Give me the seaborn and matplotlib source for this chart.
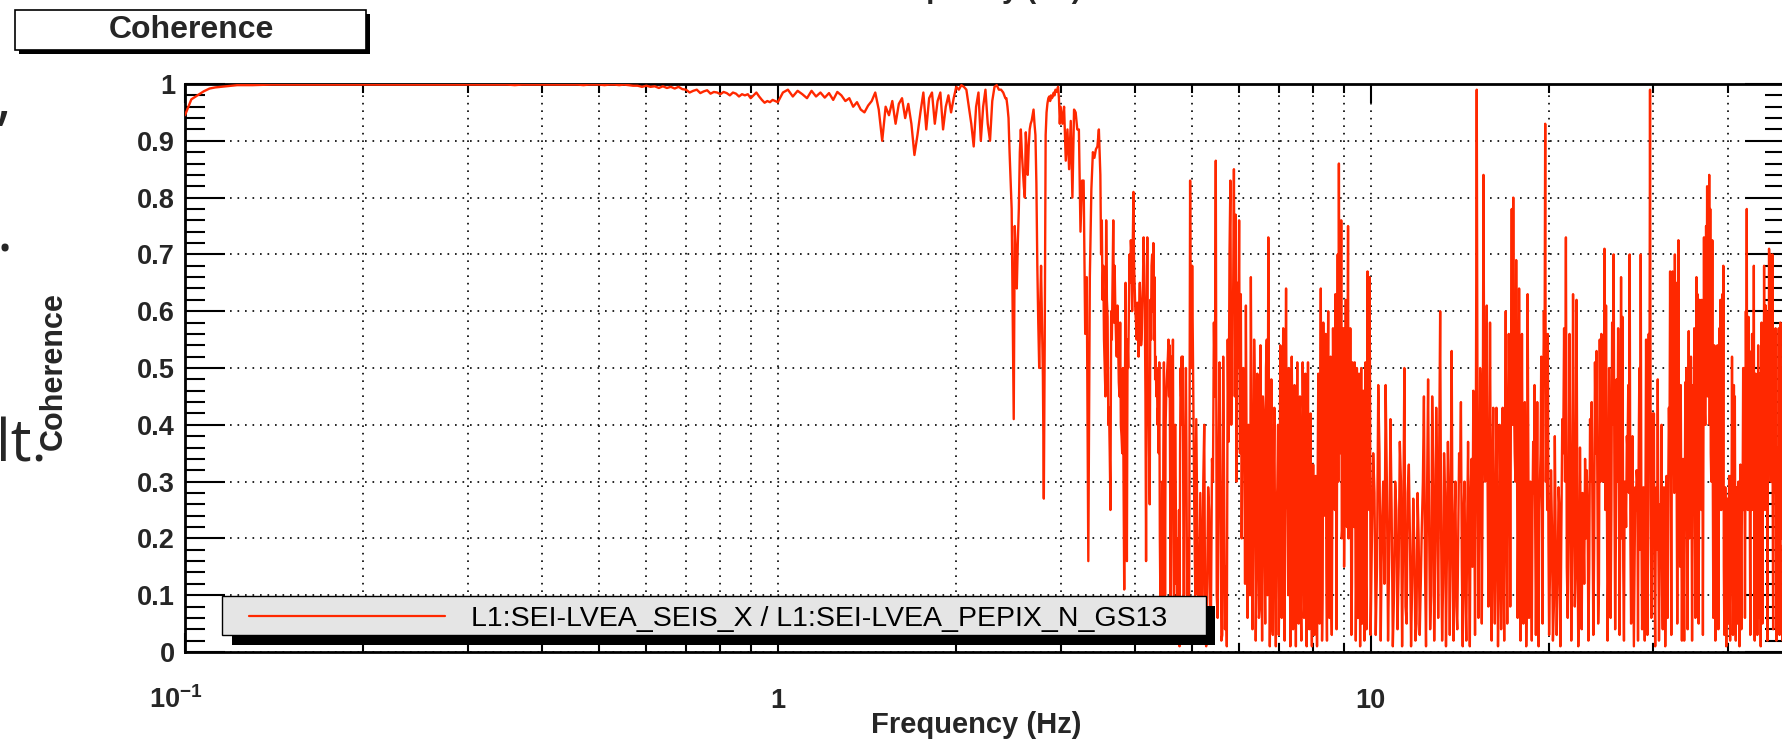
import numpy as np
import pandas as pd
import matplotlib
matplotlib.use("Agg")
import matplotlib.pyplot as plt
import matplotlib.transforms as mtransforms
from matplotlib.patches import Rectangle
from matplotlib.lines import Line2D
from matplotlib.ticker import FixedLocator, NullFormatter
import seaborn as sns

# ---------------- data ----------------
# each band: (start frequency Hz, bin step Hz) and coherence values
f_b1 = (0.100, 0.0025)
coh_b1 = [0.945, 0.973, 0.980, 0.987, 0.992, 0.994, 0.995, 0.996, 0.997, 0.998, 0.998]

f_b2 = (0.13, 0.01)
coh_b2 = [
    0.998, 0.999, 0.999, 0.999, 0.999, 0.999, 0.999, 0.999, 0.999, 0.999,
    0.999, 0.999, 0.999, 0.999, 0.999, 0.999, 0.999, 0.999, 0.999, 0.999,
    0.999, 0.999, 0.999, 0.998, 0.999, 0.999, 0.999, 0.999, 0.999, 0.999,
    0.999, 0.999, 0.999, 0.999, 0.998, 0.999, 0.999, 0.999, 0.998, 0.999,
    0.999, 0.998, 0.999,
    0.998, 0.997, 0.997, 0.995, 0.997, 0.995, 0.996, 0.993, 0.996, 0.993,
    0.995, 0.992, 0.995, 0.991, 0.990, 0.985, 0.988, 0.990, 0.984, 0.987,
    0.989, 0.983, 0.986, 0.985, 0.982, 0.986, 0.984, 0.980, 0.985, 0.983,
    0.978, 0.982, 0.980, 0.982, 0.975, 0.980, 0.985, 0.978, 0.972, 0.967,
    0.970, 0.968, 0.972, 0.970,
]

f_b3 = (1.00, 0.02)
coh_b3 = [
    0.968, 0.985, 0.990, 0.978, 0.988,
    0.982, 0.975, 0.988, 0.978, 0.985, 0.976, 0.984, 0.972, 0.986, 0.980,
    0.970, 0.975, 0.960, 0.968, 0.955, 0.950, 0.962, 0.970, 0.985, 0.955,
    0.900, 0.960, 0.945, 0.970, 0.930, 0.965, 0.975, 0.940, 0.965, 0.930,
    0.875, 0.910, 0.950, 0.985, 0.920, 0.975, 0.985, 0.930, 0.970, 0.985,
    0.920, 0.960, 0.980, 0.950, 0.975, 0.995, 0.990, 0.998, 0.995, 0.990,
    0.960, 0.930, 0.890, 0.960, 0.985, 0.900, 0.960, 0.990, 0.930, 0.900,
    0.970, 0.995, 0.998, 0.990, 0.990, 0.985, 0.975,
]

f_b4 = (2.43, 0.01)
coh_b4 = [
    0.975, 0.960, 0.940, 0.880, 0.830, 0.780, 0.600, 0.410, 0.750, 0.700,
    0.640, 0.720, 0.780, 0.880, 0.920, 0.880, 0.850, 0.820, 0.800, 0.915,
    0.880, 0.840, 0.890, 0.920, 0.930, 0.935, 0.945, 0.955, 0.930, 0.910,
    0.825, 0.680, 0.580, 0.500, 0.600, 0.680, 0.580, 0.485, 0.270, 0.550,
    0.910, 0.950, 0.966, 0.975, 0.978, 0.970, 0.980, 0.975, 0.978, 0.985,
    0.980, 0.990, 0.986, 0.990, 0.995, 0.975, 0.930, 0.960,
]

f_b5 = (3.02, 0.02)
coh_b5 = [
    0.93, 0.96, 0.865, 0.92, 0.85, 0.935, 0.80, 0.955, 0.95, 0.92,
    0.92, 0.74, 0.83, 0.83, 0.56, 0.66, 0.16, 0.66, 0.815, 0.88,
    0.87, 0.885, 0.89, 0.92, 0.84, 0.76, 0.68, 0.50, 0.76, 0.59,
    0.43, 0.25, 0.55, 0.76, 0.68, 0.55, 0.61, 0.475, 0.58, 0.38,
    0.50, 0.11, 0.65, 0.16, 0.50, 0.70, 0.725, 0.60, 0.81, 0.64,
    0.58, 0.615, 0.52, 0.65, 0.54, 0.62, 0.73, 0.60, 0.16, 0.73,
    0.47, 0.26, 0.55, 0.70, 0.72, 0.66, 0.52, 0.50, 0.43, 0.51,
    0.08, 0.05, 0.03, 0.51, 0.10, 0.45, 0.50, 0.55, 0.54, 0.03,
    0.52, 0.55, 0.02, 0.40, 0.12, 0.05, 0.03, 0.01, 0.50, 0.52,
    0.52, 0.02, 0.38, 0.50, 0.10, 0.03, 0.05, 0.83, 0.50, 0.68,
]
# bins lying between those of band 5 (3.5 - 5 Hz)
f_b5m = (3.51, 0.02)
coh_b5m = [
    0.70, 0.62, 0.55, 0.45, 0.62, 0.40, 0.35, 0.60, 0.66, 0.58,
    0.60, 0.52, 0.55, 0.45, 0.40, 0.35, 0.30, 0.45, 0.40, 0.55,
    0.60, 0.65, 0.70, 0.72, 0.68, 0.60, 0.55, 0.58, 0.60, 0.56,
    0.55, 0.65, 0.68, 0.45, 0.50, 0.40, 0.35, 0.62, 0.68, 0.60,
    0.55, 0.48, 0.45, 0.40, 0.35, 0.20, 0.15, 0.30, 0.35, 0.40,
    0.40, 0.48, 0.52, 0.45, 0.30, 0.35, 0.40, 0.20, 0.25, 0.30,
    0.20, 0.10, 0.25, 0.35, 0.45, 0.40, 0.25, 0.30, 0.40, 0.35,
    0.20, 0.10, 0.45, 0.60, 0.55,
]

f_b6 = (5.04, 0.04)
coh_b6 = [
    0.26, 0.41, 0.05, 0.28, 0.03, 0.40, 0.01, 0.29, 0.05, 0.34,
    0.58, 0.865, 0.06, 0.51, 0.02, 0.52, 0.04, 0.01, 0.37, 0.83,
    0.61, 0.85, 0.77, 0.65, 0.76, 0.63, 0.43, 0.41, 0.61, 0.06,
    0.30, 0.66, 0.04, 0.55, 0.02, 0.49, 0.06, 0.54, 0.02, 0.42,
    0.05, 0.55, 0.73, 0.01, 0.48, 0.03, 0.43, 0.01, 0.29, 0.03,
    0.54, 0.06, 0.57, 0.02, 0.64, 0.25, 0.50, 0.01, 0.52, 0.04,
    0.47, 0.01, 0.51, 0.05, 0.45, 0.02, 0.51, 0.06, 0.49, 0.01,
    0.51, 0.04, 0.42, 0.01, 0.33, 0.03, 0.31, 0.01, 0.49, 0.05,
    0.64, 0.02, 0.58, 0.24, 0.56, 0.02, 0.60, 0.06, 0.52, 0.03,
    0.57, 0.30, 0.63, 0.04, 0.70, 0.86, 0.40, 0.76, 0.22, 0.57,
    0.30, 0.62, 0.22, 0.75, 0.35, 0.57, 0.03, 0.51, 0.25, 0.51,
    0.02, 0.50, 0.06, 0.49, 0.01, 0.50, 0.05, 0.46, 0.02, 0.51,
    0.04, 0.67, 0.30, 0.66, 0.03,
]
# bins lying between those of band 6
f_b6m = (5.06, 0.04)
coh_b6m = [
    0.10, 0.22, 0.05, 0.15, 0.30, 0.02, 0.12, 0.25, 0.08,
    0.30, 0.45, 0.10, 0.35, 0.28, 0.03, 0.30, 0.15, 0.55, 0.70, 0.40, 0.60, 0.45, 0.30, 0.50,
    0.35, 0.20, 0.50, 0.12, 0.30, 0.40, 0.10, 0.35, 0.25, 0.45,
    0.15, 0.38, 0.08, 0.30, 0.45, 0.20, 0.50, 0.10, 0.35, 0.22,
    0.05, 0.30, 0.18, 0.25, 0.40,
    0.15, 0.35, 0.30, 0.12, 0.40, 0.28, 0.10, 0.33, 0.20, 0.38,
    0.06, 0.30, 0.25, 0.15, 0.35, 0.10, 0.28, 0.40, 0.12, 0.30,
    0.22, 0.08, 0.35, 0.15, 0.20,
    0.18, 0.05, 0.22, 0.30, 0.12, 0.40, 0.25, 0.10, 0.35, 0.28,
    0.15, 0.42, 0.20, 0.35, 0.10, 0.30, 0.45, 0.25, 0.55, 0.40,
    0.30, 0.50, 0.35, 0.20, 0.45,
    0.15, 0.40, 0.30, 0.50, 0.20, 0.35, 0.28, 0.12, 0.40, 0.22,
    0.30, 0.15, 0.35, 0.08, 0.30, 0.25, 0.10, 0.38, 0.20, 0.30,
    0.12, 0.35, 0.45, 0.25, 0.40,
]

f_b7 = (10.1, 0.1)
coh_b7 = [
    0.35, 0.03, 0.47, 0.02, 0.30, 0.47, 0.02, 0.41, 0.01, 0.30,
    0.04, 0.37, 0.01, 0.50, 0.05, 0.33, 0.01, 0.27, 0.02, 0.28,
    0.03, 0.22, 0.45, 0.01, 0.48, 0.04, 0.45, 0.02, 0.43, 0.06,
    0.60, 0.02, 0.35, 0.01, 0.37, 0.03, 0.53, 0.02, 0.30, 0.04,
    0.35, 0.44, 0.01, 0.30, 0.02, 0.37, 0.01, 0.34, 0.46, 0.03,
    0.99, 0.06, 0.50, 0.05, 0.84, 0.30, 0.61, 0.08, 0.58, 0.02,
    0.43, 0.05, 0.43, 0.01, 0.40, 0.04, 0.43, 0.02, 0.60, 0.05,
    0.56, 0.08, 0.78, 0.80, 0.35, 0.69, 0.06, 0.64, 0.02, 0.56,
    0.05, 0.44, 0.01, 0.63, 0.06, 0.30, 0.02, 0.37, 0.47, 0.03,
    0.44, 0.01, 0.30, 0.52, 0.05, 0.60, 0.93, 0.40, 0.56, 0.03,
]
f_b7m = (10.05, 0.1)
coh_b7m = [
    0.20, 0.28, 0.15, 0.35, 0.22, 0.12, 0.30, 0.18, 0.25, 0.10,
    0.25, 0.15, 0.30, 0.22, 0.08, 0.28, 0.20, 0.12, 0.18, 0.05,
    0.20, 0.12, 0.30, 0.15, 0.28, 0.22, 0.10, 0.32, 0.18, 0.30,
    0.35, 0.20, 0.12, 0.28, 0.18, 0.25, 0.30, 0.15, 0.22, 0.08,
    0.20, 0.30, 0.15, 0.25, 0.10, 0.22, 0.18, 0.28, 0.15, 0.30,
    0.40, 0.35, 0.25, 0.45, 0.30, 0.40, 0.35, 0.30, 0.20, 0.25,
    0.30, 0.15, 0.25, 0.20, 0.12, 0.30, 0.25, 0.18, 0.35, 0.28,
    0.35, 0.45, 0.50, 0.40, 0.45, 0.30, 0.40, 0.25, 0.30, 0.20,
    0.25, 0.18, 0.30, 0.12, 0.35, 0.20, 0.15, 0.25, 0.28, 0.22,
    0.20, 0.15, 0.25, 0.35, 0.30, 0.45, 0.50, 0.30, 0.25, 0.20,
]

f_b8 = (20.15, 0.15)
coh_b8 = [
    0.32, 0.02, 0.38, 0.03, 0.29, 0.01, 0.41, 0.57, 0.73, 0.06,
    0.56, 0.02, 0.63, 0.08, 0.62, 0.01, 0.36, 0.04, 0.22, 0.34,
    0.32, 0.02, 0.41, 0.44, 0.03, 0.51, 0.53, 0.05, 0.55, 0.56,
    0.30, 0.71, 0.61, 0.02, 0.50, 0.06, 0.58, 0.70, 0.04, 0.48,
    0.57, 0.03, 0.66, 0.59, 0.02, 0.29, 0.38, 0.47, 0.70, 0.05,
    0.38, 0.01, 0.29, 0.32, 0.02, 0.50, 0.70, 0.04, 0.29, 0.02,
    0.55, 0.03, 0.56, 0.99, 0.06, 0.42, 0.42, 0.01, 0.29, 0.48,
    0.02, 0.26, 0.40, 0.04, 0.29, 0.01, 0.31, 0.06, 0.43, 0.67,
    0.03, 0.67, 0.40, 0.70, 0.65, 0.05, 0.725, 0.30, 0.47, 0.02,
    0.34, 0.02, 0.475, 0.50, 0.04, 0.565, 0.30, 0.52, 0.02, 0.47,
    0.57, 0.06, 0.66, 0.63, 0.05, 0.62, 0.35, 0.62, 0.03, 0.73,
    0.40, 0.75, 0.82, 0.55, 0.84, 0.78, 0.30, 0.725, 0.06, 0.54,
    0.02, 0.36, 0.54, 0.04, 0.57, 0.62, 0.25, 0.63, 0.68, 0.03,
    0.29, 0.01, 0.27, 0.05, 0.31, 0.02, 0.31, 0.52, 0.03, 0.47,
    0.45, 0.02, 0.29, 0.05, 0.30, 0.01, 0.33, 0.04, 0.32, 0.50,
    0.50, 0.06, 0.60, 0.78, 0.25, 0.59, 0.53, 0.03, 0.38, 0.56,
    0.30, 0.68, 0.02, 0.49, 0.38, 0.03, 0.54, 0.06, 0.49, 0.01,
    0.58, 0.05, 0.45, 0.68, 0.25, 0.61, 0.60, 0.02, 0.40, 0.71,
    0.70, 0.30, 0.66, 0.70, 0.04, 0.45, 0.35, 0.57, 0.02, 0.36,
    0.06, 0.57, 0.03, 0.58, 0.25, 0.50, 0.02, 0.45, 0.30, 0.40,
]
f_b8m = (20.075, 0.15)
coh_b8m = [
    0.15, 0.22, 0.08, 0.18, 0.12, 0.25, 0.20, 0.35, 0.30, 0.15,
    0.25, 0.30, 0.20, 0.35, 0.15, 0.22, 0.10, 0.18, 0.28, 0.12,
    0.20, 0.25, 0.15, 0.30, 0.22, 0.18, 0.35, 0.28, 0.12, 0.30,
    0.40, 0.35, 0.25, 0.30, 0.15, 0.35, 0.25, 0.40, 0.30, 0.20,
    0.30, 0.35, 0.25, 0.20, 0.15, 0.30, 0.22, 0.35, 0.28, 0.20,
    0.12, 0.20, 0.15, 0.25, 0.30, 0.35, 0.18, 0.22, 0.10, 0.20,
    0.25, 0.30, 0.20, 0.35, 0.28, 0.15, 0.20, 0.12, 0.25, 0.18,
    0.20, 0.15, 0.22, 0.10, 0.18, 0.25, 0.12, 0.28, 0.30, 0.35,
    0.30, 0.40, 0.35, 0.28, 0.40, 0.30, 0.25, 0.20, 0.15, 0.25,
    0.20, 0.15, 0.25, 0.30, 0.22, 0.28, 0.20, 0.25, 0.30, 0.22,
    0.30, 0.35, 0.28, 0.40, 0.25, 0.35, 0.30, 0.25, 0.40, 0.35,
    0.45, 0.40, 0.50, 0.45, 0.55, 0.40, 0.35, 0.40, 0.30, 0.25,
    0.20, 0.25, 0.30, 0.28, 0.35, 0.30, 0.25, 0.35, 0.30, 0.15,
    0.12, 0.18, 0.10, 0.15, 0.20, 0.12, 0.18, 0.25, 0.20, 0.15,
    0.22, 0.15, 0.18, 0.10, 0.15, 0.20, 0.12, 0.18, 0.22, 0.30,
    0.25, 0.35, 0.30, 0.40, 0.28, 0.35, 0.25, 0.20, 0.30, 0.25,
    0.30, 0.25, 0.20, 0.30, 0.15, 0.25, 0.30, 0.22, 0.18, 0.25,
    0.30, 0.25, 0.35, 0.30, 0.40, 0.35, 0.28, 0.30, 0.35, 0.40,
    0.45, 0.35, 0.40, 0.30, 0.25, 0.35, 0.30, 0.28, 0.20, 0.25,
    0.22, 0.30, 0.25, 0.35, 0.20, 0.30, 0.25, 0.22, 0.30, 0.25,
]

series_label = "L1:SEI-LVEA_SEIS_X / L1:SEI-LVEA_PEPIX_N_GS13"
plot_title = "Coherence"
x_title = "Frequency (Hz)"
y_title = "Coherence"
x_major = [0.1, 1, 10]
x_major_labels = [r"$\mathbf{10^{-1}}$", "1", "10"]
x_minor = [0.2, 0.3, 0.4, 0.5, 0.6, 0.7, 0.8, 0.9,
           2, 3, 4, 5, 6, 7, 8, 9, 20, 30, 40]
y_major = [0, 0.1, 0.2, 0.3, 0.4, 0.5, 0.6, 0.7, 0.8, 0.9, 1.0]
y_major_labels = ["0", "0.1", "0.2", "0.3", "0.4", "0.5", "0.6", "0.7", "0.8", "0.9", "1"]

# ---------------- style ----------------
sns.set_style("white")
plt.rcParams["font.family"] = ["Liberation Sans", "DejaVu Sans"]
plt.rcParams["mathtext.fontset"] = "custom"
plt.rcParams["mathtext.bf"] = "Liberation Sans:bold"
plt.rcParams["mathtext.rm"] = "Liberation Sans"
plt.rcParams["mathtext.it"] = "Liberation Sans:italic"

RED = "#ff2800"
W, H = 1783, 744
fig = plt.figure(figsize=(W / 100, H / 100), dpi=100)
fig.patch.set_facecolor("white")
L, R, T, B = 185, 1785, 84, 652
ax = fig.add_axes([L / W, 1 - B / H, (R - L) / W, (B - T) / H])
ax.set_facecolor("white")

bands = [(f_b1, coh_b1), (f_b2, coh_b2), (f_b3, coh_b3), (f_b4, coh_b4),
         (f_b5, coh_b5), (f_b5m, coh_b5m), (f_b6, coh_b6), (f_b6m, coh_b6m),
         (f_b7, coh_b7), (f_b7m, coh_b7m), (f_b8, coh_b8), (f_b8m, coh_b8m)]
freq = np.concatenate([s + d * np.arange(len(v)) for (s, d), v in bands])
coh = np.concatenate([np.asarray(v, float) for _, v in bands])
df = pd.DataFrame({"Frequency (Hz)": freq, "Coherence": coh})
df = df.sort_values("Frequency (Hz)").reset_index(drop=True)

sns.lineplot(data=df, x="Frequency (Hz)", y="Coherence", ax=ax, color=RED,
             linewidth=1.7, estimator=None, sort=False, legend=False, zorder=3)

ax.set_xscale("log")
ax.set_xlim(0.1, 50)
ax.set_ylim(0, 1)
ax.set_xticks(x_major, x_major_labels)
ax.xaxis.set_minor_locator(FixedLocator(x_minor))
ax.xaxis.set_minor_formatter(NullFormatter())
ax.set_yticks(y_major, y_major_labels)
ax.yaxis.set_minor_locator(FixedLocator([i * 0.02 for i in range(51)]))
ax.yaxis.set_minor_formatter(NullFormatter())

ax.grid(False)
ax.set_axisbelow(True)
dot = (0, (1, 3.5))
ax.grid(True, which="both", axis="x", color="black", linestyle=dot, linewidth=1.2)
ax.grid(True, which="major", axis="y", color="black", linestyle=dot, linewidth=1.2)

ax.tick_params(axis="both", which="both", direction="in", top=True, right=True,
               bottom=True, left=True, color="black")
ax.tick_params(axis="y", which="major", length=28.8, width=1.5, pad=7.2, labelsize=19.5)
ax.tick_params(axis="y", which="minor", length=14.4, width=1.5)
ax.tick_params(axis="x", which="major", length=13.7, width=1.5, pad=40.3, labelsize=19.5)
ax.tick_params(axis="x", which="minor", length=6.5, width=1.5)
for s in ax.spines.values():
    s.set_visible(True)
    s.set_linewidth(2)
    s.set_color("black")

for t in ax.get_yticklabels():
    t.set_fontweight("bold")
for t in ax.get_xticklabels():
    t.set_fontweight("bold")
    t.set_va("baseline")
xl = ax.get_xticklabels()
xl[0].set_transform(xl[0].get_transform() +
                    mtransforms.ScaledTranslation(-9 / 100, 0, fig.dpi_scale_trans))

ax.set_xlabel(x_title, fontsize=21, fontweight="bold")
ax.xaxis.set_label_coords((976 - L) / (R - L), (B - 725) / (B - T))
ax.xaxis.label.set_va("center")
ax.set_ylabel(y_title, fontsize=22, fontweight="bold")
ax.yaxis.set_label_coords((54 - L) / (R - L), (B - 371) / (B - T))
ax.yaxis.label.set_va("center")
ax.yaxis.label.set_ha("center")


def frect(x0, y0, x1, y1, **kw):
    r = Rectangle((x0 / W, 1 - y1 / H), (x1 - x0) / W, (y1 - y0) / H,
                  transform=fig.transFigure, **kw)
    fig.add_artist(r)
    return r


# legend (ROOT style box with shadow)
frect(232, 606, 1215, 645, facecolor="black", edgecolor="none", zorder=10)
frect(222, 596, 1206, 635, facecolor="#e5e5e5", edgecolor="black", linewidth=1.0, zorder=11)
fig.add_artist(Line2D([249 / W, 445 / W], [1 - 616 / H, 1 - 616 / H], transform=fig.transFigure,
                      color=RED, linewidth=1.6, zorder=12))
fig.text(471 / W, 1 - 616 / H, series_label, ha="left", va="center_baseline",
         fontsize=20.5, color="black", zorder=12)

# title box
frect(19, 14, 370, 54, facecolor="black", edgecolor="none", zorder=10)
frect(15, 10, 366, 50, facecolor="white", edgecolor="black", linewidth=1.2, zorder=11)
fig.text(191 / W, 1 - 30 / H, plot_title, ha="center", va="center",
         fontsize=23, fontweight="bold", zorder=12)

# cut-off axis title of the plot above (only descenders visible)
fig.text(976 / W, 1 + 2 / H, x_title, ha="center", va="baseline",
         fontsize=21, fontweight="bold")

# fragments of slide text at the left edge
frag_font = ["Open Sans", "DejaVu Sans"]
fig.text(11 / W, 1 - 118 / H, ",", ha="right", va="baseline", fontsize=44, family=frag_font)
fig.text(13 / W, 1 - 251 / H, ".", ha="right", va="baseline", fontsize=44, family=frag_font)
fig.text(47 / W, 1 - 462 / H, "lt.", ha="right", va="baseline", fontsize=42, family=frag_font)

fig.savefig("out.png", dpi=100, facecolor="white")
